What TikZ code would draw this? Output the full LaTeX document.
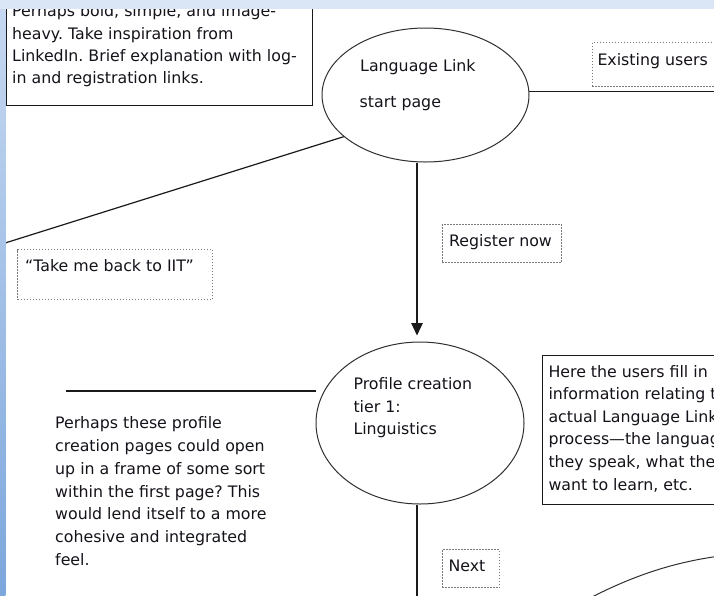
\documentclass[tikz,border=0pt]{standalone}
\usepackage{fontspec}
\setmainfont{DejaVu Sans}
\frenchspacing
\usetikzlibrary{arrows.meta,calc,shapes.geometric}
\definecolor{txt}{HTML}{16121A}
\definecolor{bandtop}{HTML}{DAE5F6}
\definecolor{bandLa}{HTML}{C6D8F1}
\definecolor{bandLb}{HTML}{7CA7DC}
\definecolor{dotc}{HTML}{7A7A7A}
\definecolor{linec}{HTML}{1A1A1A}
\definecolor{ellc}{HTML}{303030}
\tikzset{
  txtnode/.style={inner sep=0pt, text=txt, font=\fontsize{15.8}{22.7}\selectfont, align=left},
  ellnode/.style={draw=ellc, line width=1pt, ellipse, inner sep=0pt},
  solidbox/.style={draw=linec, line width=1.3pt, rectangle, inner sep=0pt, anchor=north west},
  dotbox/.style={draw=dotc, line width=1pt, dash pattern=on 1.5pt off 1.5pt, rectangle, inner sep=0pt, anchor=north west},
  conn/.style={draw=linec, line width=1.2pt},
  ellline/.style={draw=ellc, line width=1pt},
}
\begin{document}
\begin{tikzpicture}[x=1pt,y=-1pt]
\useasboundingbox (0,0) rectangle (714,595);
\clip (0,0) rectangle (714,595);
\fill[white] (0,0) rectangle (714,595);

% top-left note box
\node[solidbox, minimum width=306pt, minimum height=130pt] (tlbox) at (5.5,-25) {};
\node[txtnode, anchor=north west, font=\fontsize{15.8}{22.3}\selectfont] (tltext) at (12,0.9)
  {\strut Perhaps bold, simple, and image-\\heavy. Take inspiration from\\LinkedIn. Brief explanation with log-\\in and registration links.};

% start page ellipse
\node[ellnode, minimum width=207pt, minimum height=134pt] (e1) at (425.5,95) {};
\node[txtnode, anchor=base west] (e1a) at (360,71.7) {Language Link};
\node[txtnode, anchor=base west] (e1b) at (359.5,107) {start page};

% existing users
\node[dotbox, minimum width=170pt, minimum height=44pt] (exb) at (591.7,42) {};
\node[txtnode, anchor=base west] (ext) at (597.3,65.5) {Existing users};
\coordinate (rgt) at (720,0);
\draw[conn] (e1.2) -- (e1.2 -| rgt);

% line to the left
\coordinate (lft) at (0,244.6);
\draw[conn] (e1.207) -- (lft);

% take me back
\node[dotbox, minimum width=194.7pt, minimum height=50pt] (tkb) at (17.3,249) {};
\node[txtnode, anchor=base west] (tkt) at (25,271.7) {“Take me back to IIT”};

% register now
\node[dotbox, minimum width=119.3pt, minimum height=37.7pt] (rgb) at (441.7,224) {};
\node[txtnode, anchor=base west] (rgtx) at (449,246) {Register now};

% profile creation ellipse
\node[ellnode, minimum width=208pt, minimum height=162pt] (e2) at (420,423) {};
\node[txtnode, anchor=north west] (e2t) at (353.3,373.4)
  {\strut Profile creation\\tier 1:\\Linguistics};

\coordinate (vx) at (417,0);
\draw[conn, -{Triangle[length=12.5pt,width=11.5pt]}] (e1.south -| vx) -- ($(e2.north -| vx)+(0,-6)$);

% line left of e2
\coordinate (l2a) at (66,391);
\coordinate (l2b) at (316,391);
\draw[conn] (l2a) -- (l2b);

% bottom-left note
\node[txtnode, anchor=north west] (blt) at (55,412.8)
  {\strut Perhaps these profile\\creation pages could open\\up in a frame of some sort\\within the first page? This\\would lend itself to a more\\cohesive and integrated\\feel.};

% right note box
\node[solidbox, minimum width=200pt, minimum height=149.3pt] (rbox) at (541.7,354.7) {};
\node[txtnode, anchor=north west, font=\fontsize{15.8}{22.6}\selectfont] (rbt) at (548.3,361.1)
  {\strut Here the users fill in\\information relating to\\actual Language Link\\process—the languages\\they speak, what they\\want to learn, etc.};

% line down from e2
\coordinate (bot) at (0,600);
\draw[conn] (e2.south -| vx) -- (bot -| vx);

% next
\node[dotbox, minimum width=57.3pt, minimum height=38pt] (nxb) at (441.7,549.3) {};
\node[txtnode, anchor=base west] (nxt) at (448.3,571.7) {Next};

% next ellipse (cut off)
\coordinate (c0) at (592,597);
\coordinate (c3) at (720,556);
\draw[ellline] (c0) .. controls (635,575) and (675,562) .. (c3);

% window bands
\fill[bandtop] (0,0) rectangle (714,9);
\shade[top color=bandLa, bottom color=bandLb] (0,9) rectangle (5.3,595);
\end{tikzpicture}
\end{document}
